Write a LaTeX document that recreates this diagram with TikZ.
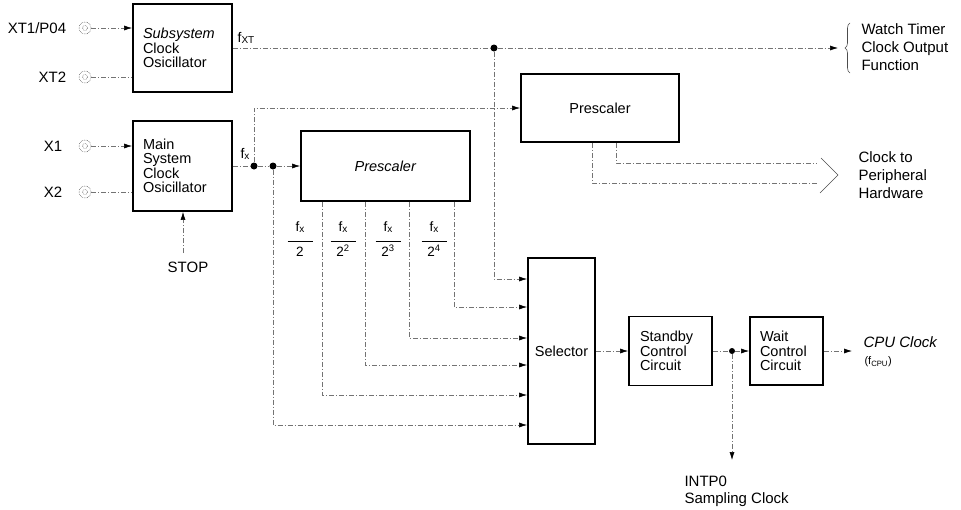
\documentclass[tikz,border=0pt]{standalone}
\usepackage{fontspec}
\setmainfont{Liberation Sans}
\usetikzlibrary{arrows.meta, positioning, calc, decorations.pathreplacing}

\newcommand{\sbx}[1]{\raisebox{-1.5pt}{\fontsize{10}{10}\selectfont #1}}

\tikzset{
  blk/.style={draw=black, line width=1.8pt, inner sep=10pt, align=left,
    font=\fontsize{14.5}{14.5}\selectfont},
  sig/.style={draw=black!55, line width=0.6pt, dash pattern=on 5pt off 2pt on 1pt off 2pt},
  arr/.style={-{Latex[length=8pt,width=5pt,black]}},
  jdot/.style={circle, fill=black, inner sep=0pt, minimum size=7pt},
  padring/.style={circle, draw=black!60, line width=0.6pt, densely dotted,
    minimum size=12pt, inner sep=0pt,
    path picture={\draw[black!60, line width=0.6pt] (path picture bounding box.center) circle (2.5pt);}},
  lbl/.style={font=\fontsize{15}{18}\selectfont, align=left},
  frac/.style={font=\fontsize{13.5}{13}\selectfont, align=center, inner sep=0pt},
}

\begin{document}
\begin{tikzpicture}[x=1pt, y=-1pt]
\useasboundingbox (0,0) rectangle (961,509);

% oscillators
\node[blk, minimum height=88pt, text width=79pt] (subosc) at (182.5,48) {\textit{Subsystem}\\Clock\\Osicillator};
\node[blk, minimum height=90pt, text width=79pt] (mainosc) at (182.5,166) {Main\\System\\Clock\\Osicillator};

% input pins
\node[padring] (xt1) at (85,28) {};
\node[padring] (xt2) at (85,77) {};
\node[padring] (x1) at (85,146) {};
\node[padring] (x2) at (85,192) {};
\node[lbl, left=9pt of xt1] (xt1lbl) {XT1/P04};
\node[lbl, left=9pt of xt2] (xt2lbl) {XT2};
\node[lbl, left=13pt of x1] (x1lbl) {X1};
\node[lbl, left=13pt of x2] (x2lbl) {X2};
\draw[sig, arr] (xt1) -- (xt1 -| subosc.west);
\draw[sig] (xt2) -- (xt2 -| subosc.west);
\draw[sig, arr] (x1) -- (x1 -| mainosc.west);
\draw[sig] (x2) -- (x2 -| mainosc.west);

% STOP
\node[lbl] (stop) at (188,267) {STOP};
\coordinate (stopin) at (183,253);
\draw[sig, arr] (stopin) -- (stopin |- mainosc.south);

% prescalers, selector, control circuits
\node[blk, minimum width=169pt, minimum height=70pt, align=center] (presA) at (385.5,166) {\textit{Prescaler}};
\node[blk, minimum width=158pt, minimum height=68pt, align=center] (presB) at (600,108) {Prescaler};
\node[blk, minimum width=67pt, minimum height=186pt, inner sep=2pt, align=center] (sel) at (561.5,351) {Selector};
\node[blk, minimum height=69pt, text width=61pt, inner sep=11pt] (stby) at (670.5,351) {Standby\\Control\\Circuit};
\node[blk, minimum height=68pt, text width=53pt, inner sep=10pt] (wait) at (786.5,351) {Wait\\Control\\Circuit};

% fXT to watch timer
\node[jdot] (fxtdot) at (494,48) {};
\coordinate (wtend) at (838,48);
\node[lbl, font=\fontsize{14}{14}\selectfont] (fxtlbl) at (246,38) {f\sbx{XT}};
\draw[sig] (subosc.east) -- (fxtdot);
\draw[sig, arr] (fxtdot) -- (wtend);
\draw[black!70, line width=0.6pt, decorate, decoration={brace, amplitude=5pt}] (850,73) -- (850,23);
\node[lbl, anchor=west] (wtlbl) at (858,47) {Watch Timer\\Clock Output\\Function};

% fX from main oscillator
\node[jdot] (dotA) at (254,166) {};
\node[jdot] (dotB) at (273,166) {};
\node[lbl, font=\fontsize{14}{14}\selectfont] (fxlbl) at (245,154) {f\sbx{x}};
\draw[sig] (mainosc.east) -- (dotA) -- (dotB);
\draw[sig, arr] (dotB) -- (presA.west);
\draw[sig, arr] (dotA) |- (presB.west);

% selector inputs
\coordinate (selin0) at (sel.west |- 0,279);
\coordinate (selin5) at (sel.west |- 0,425);
\draw[sig, arr] (fxtdot) |- (selin0);
\draw[sig, arr] (dotB) |- (selin5);
\foreach \n/\tx/\iy/\fpos/\den in {1/322/395/300/2, 2/365/365/343/2\textsuperscript{2},
    3/409/338/388/2\textsuperscript{3}, 4/454/307/434/2\textsuperscript{4}} {
  \coordinate (tap\n) at (presA.south -| \tx,0);
  \coordinate (selin\n) at (sel.west |- 0,\iy);
  \draw[sig, arr] (tap\n) |- (selin\n);
  \node[frac] (div\n) at (\fpos,239) {f\sbx{x}\\\rule[3pt]{25pt}{0.8pt}\\[-1pt]\den};
}

% clock to peripheral hardware
\coordinate (tapP1) at (presB.south -| 592,0);
\coordinate (tapP2) at (presB.south -| 616,0);
\coordinate (periA) at (817,163);
\coordinate (periB) at (817,183);
\draw[sig] (tapP1) |- (periB);
\draw[sig] (tapP2) |- (periA);
\draw[black!70, line width=0.6pt] (821,158) -- (838,175) -- (820,193);
\node[lbl, anchor=west] (perilbl) at (855,175) {Clock to\\Peripheral\\Hardware};

% CPU clock path
\node[jdot, minimum size=6pt] (intdot) at (732,351) {};
\coordinate (intend) at (732,460);
\coordinate (cpuend) at (852,351);
\draw[sig, arr] (sel.east) -- (stby.west);
\draw[sig] (stby.east) -- (intdot);
\draw[sig, arr] (intdot) -- (wait.west);
\draw[sig, arr] (intdot) -- (intend);
\draw[sig, arr] (wait.east) -- (cpuend);
\node[lbl, anchor=north west, font=\fontsize{15}{17}\selectfont] (intlbl) at (681,472) {INTP0\\Sampling Clock};
\node[lbl, anchor=west] (cpulbl) at (860,342) {\textit{CPU Clock}};
\node[lbl, anchor=west, font=\fontsize{11}{11}\selectfont] (fcpulbl) at (861,362) {(f\textsubscript{CPU})};
\end{tikzpicture}
\end{document}
